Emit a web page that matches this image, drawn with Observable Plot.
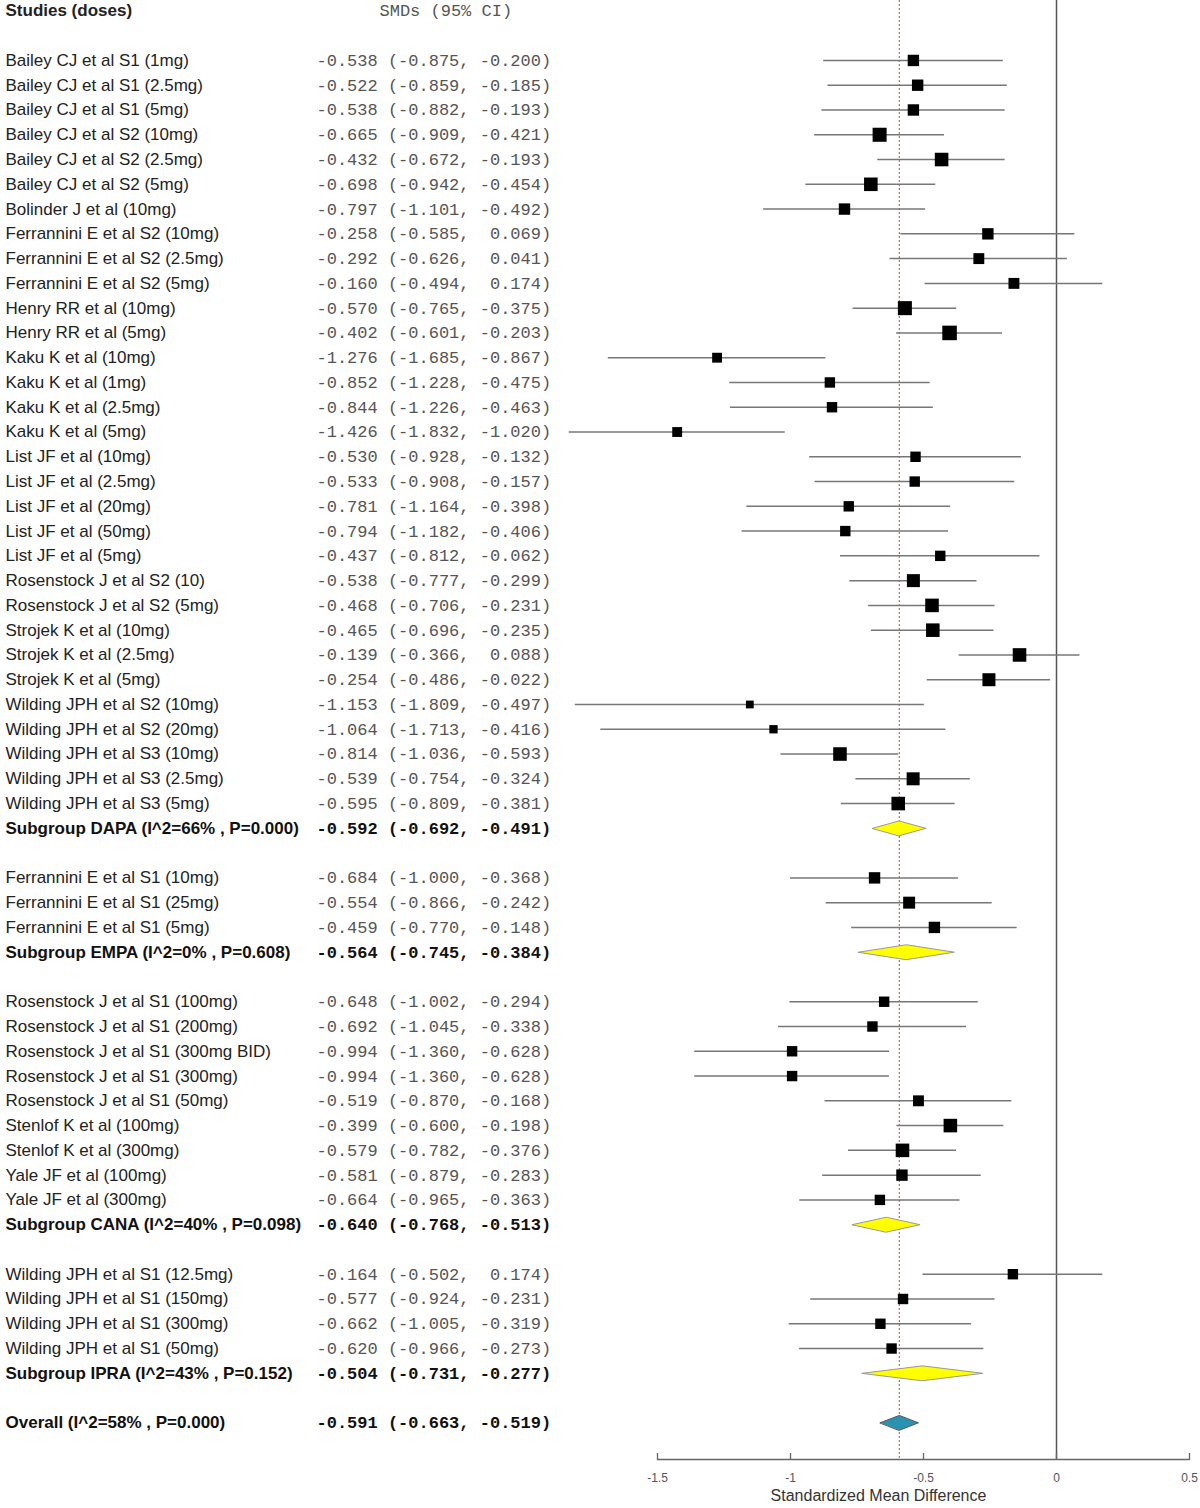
<!DOCTYPE html>
<html><head><meta charset="utf-8">
<script src="https://cdn.jsdelivr.net/npm/d3@7"></script>
<script src="https://cdn.jsdelivr.net/npm/@observablehq/plot@0.6"></script>
<style>
html,body{margin:0;padding:0;background:#fff;}
#chart svg text{white-space:pre;}
</style></head><body><div id="chart"></div>
<script>
// ---- data ----
const groups = ["DAPA", "EMPA", "CANA", "IPRA"];
const studyLabels = [
  "Bailey CJ et al S1 (1mg)", "Bailey CJ et al S1 (2.5mg)", "Bailey CJ et al S1 (5mg)",
  "Bailey CJ et al S2 (10mg)", "Bailey CJ et al S2 (2.5mg)", "Bailey CJ et al S2 (5mg)",
  "Bolinder J et al (10mg)", "Ferrannini E et al S2 (10mg)", "Ferrannini E et al S2 (2.5mg)",
  "Ferrannini E et al S2 (5mg)", "Henry RR et al (10mg)", "Henry RR et al (5mg)",
  "Kaku K et al (10mg)", "Kaku K et al (1mg)", "Kaku K et al (2.5mg)", "Kaku K et al (5mg)",
  "List JF et al (10mg)", "List JF et al (2.5mg)", "List JF et al (20mg)", "List JF et al (50mg)",
  "List JF et al (5mg)", "Rosenstock J et al S2 (10)", "Rosenstock J et al S2 (5mg)",
  "Strojek K et al (10mg)", "Strojek K et al (2.5mg)", "Strojek K et al (5mg)",
  "Wilding JPH et al S2 (10mg)", "Wilding JPH et al S2 (20mg)", "Wilding JPH et al S3 (10mg)",
  "Wilding JPH et al S3 (2.5mg)", "Wilding JPH et al S3 (5mg)",
  "Ferrannini E et al S1 (10mg)", "Ferrannini E et al S1 (25mg)", "Ferrannini E et al S1 (5mg)",
  "Rosenstock J et al S1 (100mg)", "Rosenstock J et al S1 (200mg)", "Rosenstock J et al S1 (300mg BID)",
  "Rosenstock J et al S1 (300mg)", "Rosenstock J et al S1 (50mg)", "Stenlof K et al (100mg)",
  "Stenlof K et al (300mg)", "Yale JF et al (100mg)", "Yale JF et al (300mg)",
  "Wilding JPH et al S1 (12.5mg)", "Wilding JPH et al S1 (150mg)", "Wilding JPH et al S1 (300mg)",
  "Wilding JPH et al S1 (50mg)"
];
const studyGroup = [
  ...Array(31).fill("DAPA"), ...Array(3).fill("EMPA"), ...Array(9).fill("CANA"), ...Array(4).fill("IPRA")
];
const studyEst = [
  -0.538, -0.522, -0.538, -0.665, -0.432, -0.698, -0.797, -0.258, -0.292, -0.160, -0.570, -0.402,
  -1.276, -0.852, -0.844, -1.426, -0.530, -0.533, -0.781, -0.794, -0.437, -0.538, -0.468,
  -0.465, -0.139, -0.254, -1.153, -1.064, -0.814, -0.539, -0.595,
  -0.684, -0.554, -0.459,
  -0.648, -0.692, -0.994, -0.994, -0.519, -0.399, -0.579, -0.581, -0.664,
  -0.164, -0.577, -0.662, -0.620
];
const studyLo = [
  -0.875, -0.859, -0.882, -0.909, -0.672, -0.942, -1.101, -0.585, -0.626, -0.494, -0.765, -0.601,
  -1.685, -1.228, -1.226, -1.832, -0.928, -0.908, -1.164, -1.182, -0.812, -0.777, -0.706,
  -0.696, -0.366, -0.486, -1.809, -1.713, -1.036, -0.754, -0.809,
  -1.000, -0.866, -0.770,
  -1.002, -1.045, -1.360, -1.360, -0.870, -0.600, -0.782, -0.879, -0.965,
  -0.502, -0.924, -1.005, -0.966
];
const studyHi = [
  -0.200, -0.185, -0.193, -0.421, -0.193, -0.454, -0.492, 0.069, 0.041, 0.174, -0.375, -0.203,
  -0.867, -0.475, -0.463, -1.020, -0.132, -0.157, -0.398, -0.406, -0.062, -0.299, -0.231,
  -0.235, 0.088, -0.022, -0.497, -0.416, -0.593, -0.324, -0.381,
  -0.368, -0.242, -0.148,
  -0.294, -0.338, -0.628, -0.628, -0.168, -0.198, -0.376, -0.283, -0.363,
  0.174, -0.231, -0.319, -0.273
];
// relative study weights
const studyWeight = [
  6.0, 6.0, 6.0, 9.1, 8.5, 8.5, 6.0, 6.0, 5.5, 5.5, 9.1, 9.8,
  4.5, 5.0, 5.0, 4.5, 5.0, 5.0, 5.0, 5.0, 5.0, 7.8, 8.5,
  8.5, 8.5, 7.8, 2.8, 3.2, 8.5, 7.8, 8.5,
  6.0, 6.6, 6.0,
  5.0, 5.0, 5.0, 5.0, 5.5, 8.5, 8.5, 6.0, 5.0,
  5.0, 5.0, 5.0, 5.0
];
const summaryLabels = [
  "Subgroup DAPA (I^2=66% , P=0.000)", "Subgroup EMPA (I^2=0% , P=0.608)",
  "Subgroup CANA (I^2=40% , P=0.098)", "Subgroup IPRA (I^2=43% , P=0.152)"
];
const summaryEst = [-0.592, -0.564, -0.640, -0.504];
const summaryLo = [-0.692, -0.745, -0.768, -0.731];
const summaryHi = [-0.491, -0.384, -0.513, -0.277];
const overallLabel = "Overall (I^2=58% , P=0.000)";
const overallEst = -0.591, overallLo = -0.663, overallHi = -0.519;
const headerLabel = "Studies (doses)";
const headerCI = "SMDs (95% CI)";
const xTicks = [-1.5, -1, -0.5, 0, 0.5];
const xTitle = "Standardized Mean Difference";

// ---- layout rows ----
const f = v => v.toFixed(3).padStart(6);
const ci = (e, l, h) => `${f(e)} (${f(l)}, ${f(h)})`;
const studies = [], summaries = [];
let r = 0;
groups.forEach((g, gi) => {
  studyGroup.forEach((sg, i) => {
    if (sg === g) studies.push({row: r++, label: studyLabels[i], est: studyEst[i], lo: studyLo[i], hi: studyHi[i], w: studyWeight[i]});
  });
  summaries.push({row: r++, label: summaryLabels[gi], est: summaryEst[gi], lo: summaryLo[gi], hi: summaryHi[gi]});
  r++;
});
const overall = {row: r, label: overallLabel, est: overallEst, lo: overallLo, hi: overallHi};
const bold = [...summaries, overall];
const H = 0.3;
const diamond = s => [
  {row: s.row, x: s.lo, y: s.row}, {row: s.row, x: s.est, y: s.row - H},
  {row: s.row, x: s.hi, y: s.row}, {row: s.row, x: s.est, y: s.row + H}
];
const sumPts = summaries.flatMap(diamond);
const allPts = diamond(overall);

const sans = "Liberation Sans, Arial, sans-serif";
const mono = "Liberation Mono, Courier New, monospace";

const chart = Plot.plot({
  width: 1200, height: 1508,
  marginLeft: 657, marginRight: 11, marginTop: 0, marginBottom: 49,
  x: {domain: [-1.5, 0.5], axis: null, label: null},
  y: {domain: [-2.42, overall.row + 1.48], reverse: true, axis: null, label: null},
  r: {type: "sqrt", domain: [0, 10], range: [0, 8.3]},
  style: {background: "#fff"},
  marks: [
    Plot.ruleX([overallEst], {stroke: "#cc4444", strokeWidth: 1, strokeDasharray: "2,2"}),
    Plot.ruleX([0], {stroke: "#555", strokeWidth: 1.5}),
    Plot.ruleY(studies, {y: "row", x1: "lo", x2: "hi", stroke: "#777", strokeWidth: 1.5}),
    Plot.dot(studies, {x: "est", y: "row", r: "w", symbol: "square", fill: "#000", stroke: null}),
    Plot.line(sumPts, {x: "x", y: "y", z: "row", curve: "linear-closed", fill: "#ffff00", stroke: "#999", strokeWidth: 1}),
    Plot.line(allPts, {x: "x", y: "y", z: "row", curve: "linear-closed", fill: "#2a93b0", stroke: "#556", strokeWidth: 1}),
    // header
    Plot.text([headerLabel], {y: [-2], text: d => d, frameAnchor: "left", dx: -652, textAnchor: "start", fontFamily: sans, fontSize: 17, fontWeight: "bold", fill: "#222"}),
    Plot.text([headerCI], {y: [-2], text: d => d, frameAnchor: "left", dx: -278, textAnchor: "start", fontFamily: mono, fontSize: 17, fill: "#555"}),
    // study labels
    Plot.text(studies, {y: "row", text: "label", frameAnchor: "left", dx: -652, textAnchor: "start", fontFamily: sans, fontSize: 17, fill: "#222"}),
    Plot.text(studies, {y: "row", text: d => ci(d.est, d.lo, d.hi), frameAnchor: "left", dx: -341, textAnchor: "start", fontFamily: mono, fontSize: 17, fill: "#555"}),
    Plot.text(bold, {y: "row", text: "label", frameAnchor: "left", dx: -652, textAnchor: "start", fontFamily: sans, fontSize: 17, fontWeight: "bold", fill: "#111"}),
    Plot.text(bold, {y: "row", text: d => ci(d.est, d.lo, d.hi), frameAnchor: "left", dx: -341, textAnchor: "start", fontFamily: mono, fontSize: 17, fontWeight: "bold", fill: "#111"}),
    // axis
    Plot.frame({anchor: "bottom", stroke: "#666", strokeWidth: 1.3}),
    Plot.ruleX(xTicks, {x: d => d, insetTop: 1453, stroke: "#666", strokeWidth: 1.3}),
    Plot.axisX({ticks: xTicks, tickFormat: d => String(d), tickSize: 0, tickPadding: 14, fontSize: 12, fontFamily: sans, fill: "#555", label: null}),
    Plot.text([xTitle], {text: d => d, frameAnchor: "bottom-left", dx: 221, dy: 41, textAnchor: "middle", fontFamily: sans, fontSize: 16, fill: "#333"})
  ]
});
document.getElementById("chart").appendChild(chart);
</script>
</body></html>
